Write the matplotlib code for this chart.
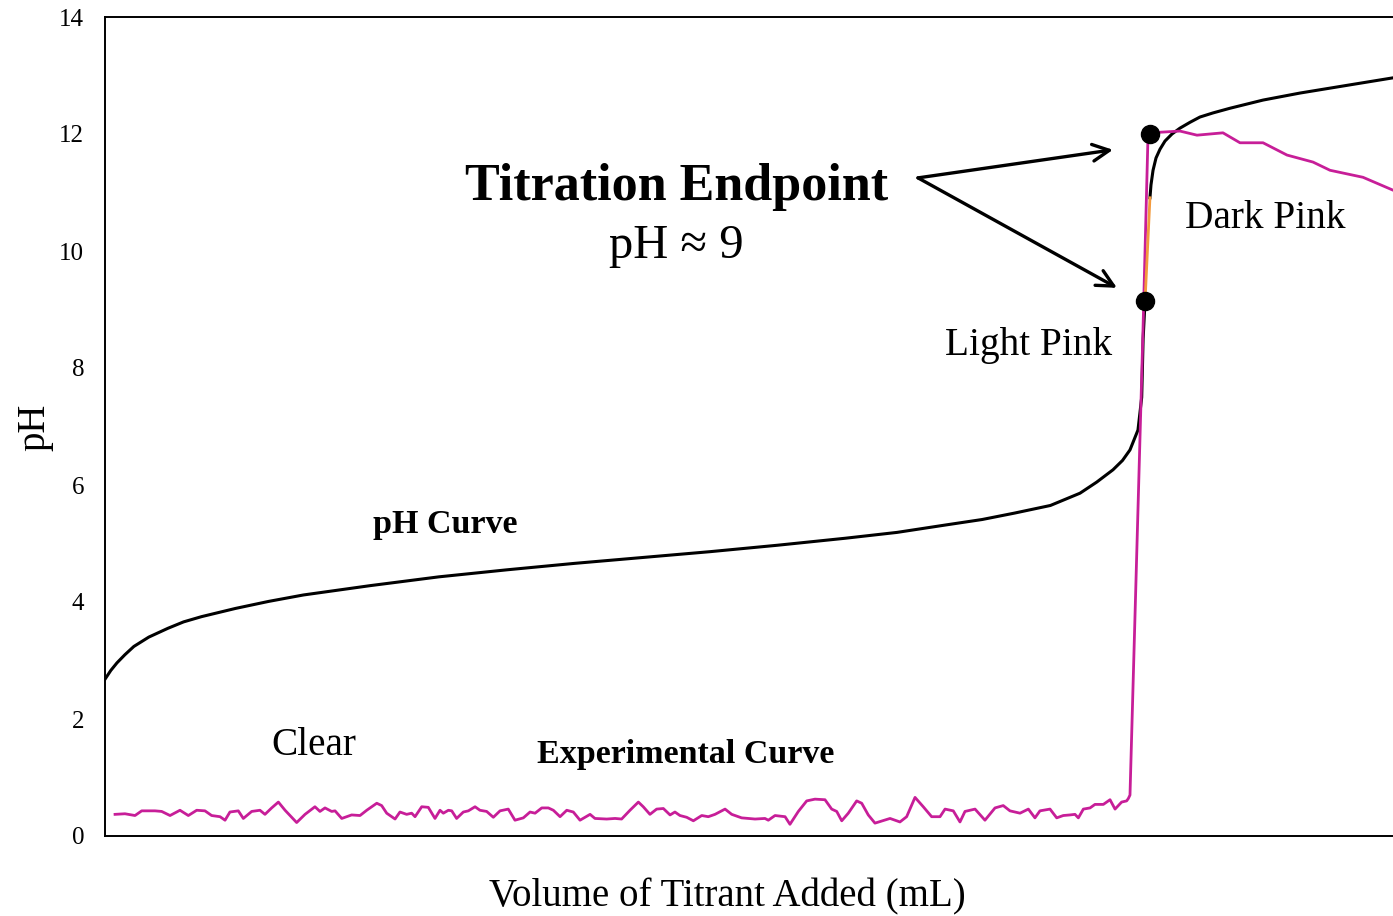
import numpy as np
import matplotlib.pyplot as plt

# pH curve (black); x in arbitrary volume units 0..100
ph_x = [0, 0.45, 0.93, 1.55, 2.24, 3.4, 4.88, 6.1, 7.5, 10.13, 12.7, 15.40,
        20.6, 25.92, 31.2, 36.44, 41.7, 46.96, 52.2, 57.48, 61.5, 65.37, 68.1,
        70.62, 73.4, 75.70, 77.0, 78.26, 79.0, 79.58, 80.20, 80.49, 80.6, 80.75]
ph_y = [2.68, 2.83, 2.96, 3.10, 3.24, 3.40, 3.55, 3.66, 3.75, 3.89, 4.01, 4.12,
        4.28, 4.43, 4.55, 4.66, 4.76, 4.86, 4.97, 5.09, 5.19, 5.32, 5.41,
        5.52, 5.65, 5.86, 6.05, 6.26, 6.42, 6.60, 6.94, 7.50, 8.50, 9.15]

# colour change segment (orange)
trans_x = [80.75, 81.13]
trans_y = [9.15, 10.91]

# pH curve after the endpoint
top_x = [81.13, 81.21, 81.37, 81.60, 81.91, 82.30, 82.84, 83.46, 84.24, 85.01,
         86.02, 87.34, 89.91, 92.78, 96.66, 100]
top_y = [10.91, 11.13, 11.38, 11.59, 11.74, 11.88, 12.00, 12.10, 12.20, 12.29,
         12.36, 12.44, 12.58, 12.70, 12.84, 12.96]

# experimental curve (magenta)
exp_x1 = [0.78, 1.55, 2.33, 2.85, 3.88, 4.40, 5.05, 5.82, 6.47, 7.12, 7.76, 8.28,
          8.93, 9.32, 9.70, 10.35, 10.74, 11.39, 12.03, 12.42, 12.94, 13.46, 13.98,
          14.88, 15.53, 16.30, 16.69, 17.08, 17.60, 17.86, 18.38, 19.15]
exp_y1 = [0.37, 0.38, 0.35, 0.43, 0.43, 0.42, 0.35, 0.44, 0.35, 0.44, 0.43, 0.35,
          0.33, 0.27, 0.41, 0.43, 0.30, 0.42, 0.44, 0.37, 0.48, 0.58, 0.44,
          0.23, 0.37, 0.50, 0.42, 0.48, 0.42, 0.43, 0.30, 0.36]
exp_x2 = [19.80, 20.32, 21.10, 21.48, 21.87, 22.52, 22.90, 23.42, 23.81, 24.07,
          24.59, 25.10, 25.62, 26.01, 26.27, 26.66, 26.92, 27.30, 27.82, 28.21,
          28.73, 29.11, 29.63, 30.15, 30.67, 31.31, 31.83, 32.48, 33.00, 33.39,
          33.91, 34.42, 34.81, 35.33, 35.85, 36.36, 36.88, 37.66, 38.04, 38.95]
exp_y2 = [0.35, 0.44, 0.56, 0.52, 0.39, 0.29, 0.41, 0.37, 0.39, 0.33,
          0.50, 0.49, 0.30, 0.44, 0.39, 0.44, 0.43, 0.30, 0.41, 0.43,
          0.50, 0.44, 0.42, 0.32, 0.43, 0.46, 0.27, 0.31, 0.41, 0.39,
          0.48, 0.48, 0.44, 0.33, 0.44, 0.41, 0.27, 0.37, 0.30, 0.29]
exp_x3 = [39.60, 40.11, 40.76, 41.41, 41.79, 42.31, 42.83, 43.35, 43.87, 44.25,
          44.64, 45.16, 45.68, 46.33, 46.84, 47.36, 48.14, 48.66, 49.43, 50.47,
          51.24, 51.50, 52.02, 52.80, 53.18, 53.83, 54.48, 55.12, 55.90, 56.42,
          56.81, 57.20, 57.71, 58.36, 58.75, 59.26, 59.78]
exp_y3 = [0.30, 0.29, 0.44, 0.58, 0.50, 0.37, 0.46, 0.47, 0.36, 0.41,
          0.35, 0.32, 0.26, 0.35, 0.33, 0.37, 0.46, 0.37, 0.31, 0.29,
          0.30, 0.27, 0.35, 0.33, 0.20, 0.42, 0.60, 0.63, 0.62, 0.46,
          0.42, 0.26, 0.39, 0.60, 0.56, 0.36, 0.22]
exp_x4 = [60.95, 61.72, 62.24, 62.89, 63.53, 64.18, 64.83, 65.22, 65.86, 66.38,
          66.77, 67.55, 68.32, 69.10, 69.74, 70.26, 71.04, 71.69, 72.20, 72.59,
          73.37, 73.89, 74.40, 74.92, 75.31, 75.57, 75.96, 76.48, 76.86, 77.51,
          78.03, 78.42, 78.93, 79.32, 79.45, 79.58]
exp_y4 = [0.30, 0.24, 0.33, 0.66, 0.50, 0.33, 0.33, 0.46, 0.43, 0.24,
          0.42, 0.46, 0.27, 0.48, 0.52, 0.43, 0.39, 0.46, 0.31, 0.43,
          0.46, 0.31, 0.35, 0.36, 0.37, 0.31, 0.46, 0.48, 0.54, 0.54,
          0.62, 0.46, 0.58, 0.60, 0.64, 0.70]
exp_x5 = [80.59, 80.98, 81.91, 83.46, 84.78, 86.80, 88.12, 89.91, 91.77, 93.79,
          95.11, 97.67, 100.0]
exp_y5 = [8.65, 11.98, 12.03, 12.05, 11.98, 12.02, 11.85, 11.85, 11.64, 11.52,
          11.38, 11.26, 11.04]

# endpoint markers
dot_x = [81.13, 80.75]
dot_y = [12.0, 9.15]

y_ticks = [0, 2, 4, 6, 8, 10, 12, 14]

MAGENTA = '#C71E98'
SERIF = ['Liberation Serif', 'DejaVu Serif']


def main():
    plt.rcParams['font.family'] = SERIF
    fig = plt.figure(figsize=(13.93, 9.16), dpi=100)
    ax = fig.add_axes([105 / 1393, 80 / 916, 1288 / 1393, 819 / 916])

    exp_x = exp_x1 + exp_x2 + exp_x3 + exp_x4 + exp_x5
    exp_y = exp_y1 + exp_y2 + exp_y3 + exp_y4 + exp_y5

    ax.plot(ph_x, ph_y, color='black', lw=2.2, zorder=2)
    ax.plot(top_x, top_y, color='black', lw=2.2, zorder=2)
    ax.plot(exp_x, exp_y, color=MAGENTA, lw=2.0, zorder=3)
    ax.plot(trans_x, trans_y, color='#F39A3C', lw=2.0, zorder=3)
    ax.plot(dot_x, dot_y, 'o', color='black', ms=13, zorder=5)

    ax.set_xlim(0, 100)
    ax.set_ylim(0, 14)
    ax.set_yticks(y_ticks)
    ax.set_xticks([])
    ax.tick_params(axis='y', length=0, pad=15, labelsize=18)
    for s in ['left', 'top', 'bottom']:
        ax.spines[s].set_linewidth(1.4)
    ax.spines['right'].set_visible(False)

    # annotations
    ax.text(44.41, 11.10, 'Titration Endpoint', fontsize=37.5, fontweight='bold',
            ha='center', va='center')
    ax.text(44.33, 10.08, 'pH ≈ 9', fontsize=35, ha='center', va='center')
    arrow = dict(arrowstyle='->', lw=2.4, color='black', mutation_scale=30,
                 shrinkA=0, shrinkB=0)
    ax.annotate('', xy=(78.26, 11.73), xytext=(63.12, 11.25), arrowprops=arrow)
    ax.annotate('', xy=(78.57, 9.37), xytext=(63.12, 11.25), arrowprops=arrow)

    ax.text(90.06, 10.56, 'Dark Pink', fontsize=28.3, ha='center', va='center')
    ax.text(71.74, 8.38, 'Light Pink', fontsize=28.3, ha='center', va='center')
    ax.text(16.23, 1.54, 'Clear', fontsize=28.3, ha='center', va='center')
    ax.text(26.40, 5.32, 'pH Curve', fontsize=24.5, fontweight='bold',
            ha='center', va='center')
    ax.text(45.11, 1.39, 'Experimental Curve', fontsize=24.5, fontweight='bold',
            ha='center', va='center')

    fig.text(727 / 1393, 1 - 897 / 916, 'Volume of Titrant Added (mL)',
             fontsize=28, ha='center', va='center')
    fig.text(35 / 1393, 1 - 427 / 916, 'pH', fontsize=28, rotation=90,
             ha='center', va='center')

    fig.savefig('out.png', dpi=100)


if __name__ == '__main__':
    main()
